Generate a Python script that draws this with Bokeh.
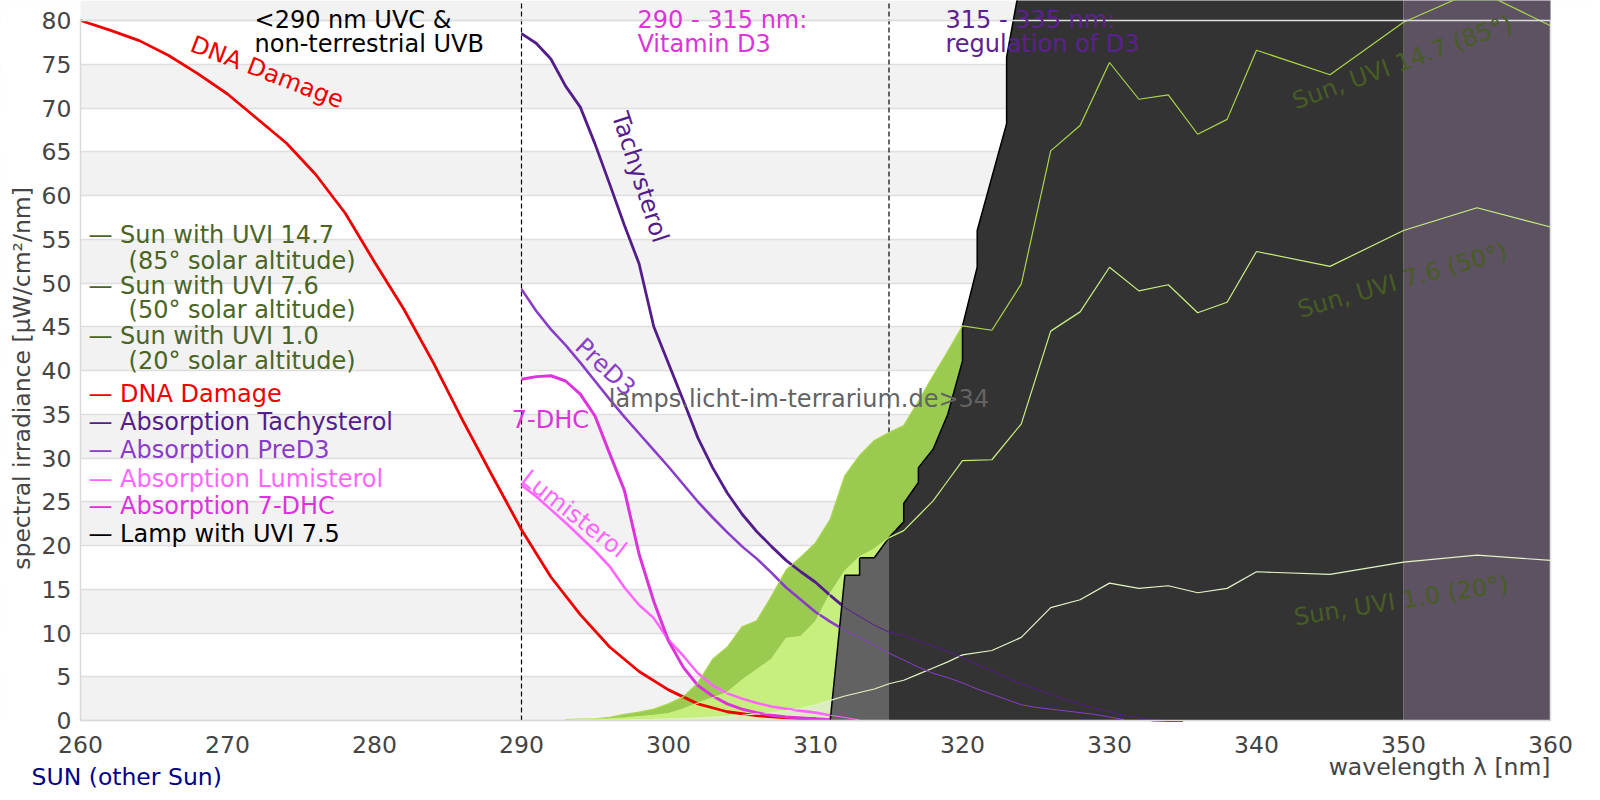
import numpy as np
from bokeh.plotting import figure
from bokeh.models import Range1d, FixedTicker, Label, BoxAnnotation
from bokeh.embed import file_html
from bokeh.resources import INLINE

# ---------------- data ----------------
x_ticks = [260, 270, 280, 290, 300, 310, 320, 330, 340, 350, 360]
y_ticks = list(range(0, 81, 5))
region_bounds = [290, 315]

dna_x = [260, 262, 264, 266, 268, 270, 272, 274, 276, 278, 280, 282, 284, 286, 288,
         290, 292, 294, 296, 298, 300, 302, 304, 306, 308, 310]
dna_y = [80.0, 78.9, 77.7, 76.0, 73.9, 71.6, 68.8, 66.0, 62.4, 58.0, 52.4, 47.0, 40.9, 34.3, 28.0,
         21.8, 16.4, 12.1, 8.4, 5.6, 3.5, 1.9, 1.0, 0.55, 0.3, 0.2]

tachy_x = list(range(290, 336))
tachy_y = [78.5, 77.4, 75.6, 72.5, 70.1, 65.9, 61.3, 56.6, 52.2, 45.0, 40.8, 36.6, 32.3, 28.9,
           26.0, 23.6, 21.6, 19.9, 18.3, 17.0, 15.8, 14.3, 12.9, 11.9, 10.9, 10.1, 9.7, 9.1,
           8.5, 7.9, 7.2, 6.4, 5.7, 4.9, 4.2, 3.6, 3.0, 2.4, 1.9, 1.4, 1.0, 0.6, 0.3, 0.05, 0.0, 0.0]

pred3_x = list(range(290, 332))
pred3_y = [49.3, 46.8, 44.7, 42.9, 40.9, 38.8, 36.7, 34.7, 32.8, 30.9, 29.0, 27.0, 25.0, 23.2,
           21.5, 19.9, 18.5, 16.9, 15.2, 13.8, 12.4, 11.3, 10.3, 9.5, 8.6, 7.7, 6.9, 6.1,
           5.4, 4.9, 4.3, 3.6, 3.0, 2.4, 1.8, 1.5, 1.3, 1.1, 0.9, 0.7, 0.4, 0.1]

dhc_x = list(range(290, 312))
dhc_y = [39.0, 39.3, 39.4, 38.8, 37.3, 34.8, 30.5, 26.3, 19.0, 13.6, 9.1, 6.1, 4.0, 2.8,
         1.9, 1.3, 0.9, 0.6, 0.4, 0.3, 0.2, 0.1]

lumi_x = list(range(290, 314))
lumi_y = [26.9, 25.6, 24.1, 22.6, 21.0, 19.4, 17.6, 15.2, 13.2, 11.7, 9.2, 7.4, 5.4, 4.0,
          3.1, 2.5, 2.0, 1.6, 1.35, 1.1, 0.9, 0.6, 0.35, 0.05]

sun_x = list(range(293, 321)) + list(range(322, 341, 2)) + [345, 350, 355, 360]
sun_147 = [0.1, 0.15, 0.2, 0.35, 0.7, 0.95, 1.3, 1.9, 2.7, 4.3, 7.0, 8.4, 10.7, 11.4,
           14.2, 17.2, 18.7, 20.3, 23.0, 28.0, 30.3, 32.0, 32.9, 33.7, 36.5, 39.4, 42.2, 45.1,
           44.6, 49.9, 65.1, 68.0, 75.2, 71.0, 71.5, 67.0, 68.7, 76.6,
           73.8, 79.8, 83.5, 79.4]
sun_76 = [0.05, 0.1, 0.15, 0.2, 0.3, 0.45, 0.6, 0.8, 1.3, 2.0, 2.6, 3.2, 4.6, 5.8,
          7.0, 9.4, 9.6, 11.3, 14.5, 17.1, 18.7, 19.6, 20.9, 21.7, 23.4, 25.1, 27.4, 29.7,
          29.8, 33.9, 44.5, 46.7, 51.8, 49.1, 49.8, 46.6, 47.8, 53.6,
          51.9, 56.0, 58.6, 56.4]
sun_10 = [0.0, 0.02, 0.03, 0.05, 0.07, 0.1, 0.13, 0.18, 0.23, 0.3, 0.38, 0.48, 0.6, 0.75,
          0.9, 1.1, 1.4, 1.8, 2.3, 2.8, 3.2, 3.6, 4.2, 4.6, 5.3, 6.0, 6.7, 7.5,
          8.0, 9.5, 12.9, 13.8, 15.7, 15.1, 15.4, 14.6, 15.1, 17.0,
          16.7, 18.1, 18.9, 18.3]

lamp_x = [311.0, 312.0, 313.0, 313.0, 314.0, 315.0, 316.0, 316.0, 317.0, 317.0, 318.0, 319.0,
          320.0, 320.0, 321.0, 321.0, 323.0, 323.0, 324.0, 325.0, 326.0, 328.0, 330.0, 335.0,
          340.0, 345.0, 350.0, 355.0, 360.0]
lamp_y = [0.0, 16.6, 16.6, 18.6, 18.6, 20.9, 22.7, 24.8, 27.2, 28.9, 31.0, 35.0,
          41.1, 45.1, 51.8, 56.0, 68.2, 75.8, 85.0, 100.0, 115.0, 130.0, 140.0, 150.0,
          155.0, 160.0, 160.0, 160.0, 155.0]

legend_lines = ["— Sun with UVI 14.7", "— Sun with UVI 7.6", "— Sun with UVI 1.0",
                "— DNA Damage", "— Absorption Tachysterol", "— Absorption PreD3",
                "— Absorption Lumisterol", "— Absorption 7-DHC", "— Lamp with UVI 7.5"]
legend_sub = ["(85° solar altitude)", "(50° solar altitude)", "(20° solar altitude)"]

# ---------------- styles ----------------
FONT = "DejaVu Sans"
FS = "24px"
FS_TICK = "23.5px"
C_RED = "#f00000"
C_TACHY = "#541d8c"
C_PRED3 = "#8a3dc9"
C_LUMI = "#ff66ff"
C_DHC = "#dd33dd"
C_OLIVE = "#4a6526"
C_SUNLBL = "#475d24"
C_G1 = "#9acb50"
C_G2 = "#c6ef7e"
C_G3 = "#dcedc1"
C_TXT = "#444444"

X0, X1 = x_ticks[0], x_ticks[-1]
Y1 = y_ticks[-1]

# the frame covers the whole canvas; the axes sit at fixed data positions
p = figure(width=1592, height=796,
           x_range=Range1d(X0 - 80 / 14.7, X1 + 42 / 14.7),
           y_range=Range1d(-76 / 8.75, Y1 + 20 / 8.75),
           output_backend="svg", toolbar_location=None,
           min_border_left=0, min_border_right=0, min_border_top=0, min_border_bottom=0)
p.outline_line_color = None
p.background_fill_color = "white"
p.border_fill_color = "white"

p.xaxis.ticker = FixedTicker(ticks=x_ticks)
p.yaxis.ticker = FixedTicker(ticks=y_ticks)
p.xaxis.fixed_location = 0
p.yaxis.fixed_location = X0
p.xaxis.bounds = (X0, X1)
p.yaxis.bounds = (0, Y1)
for ax in (p.xaxis[0], p.yaxis[0]):
    ax.axis_line_color = "#d9d9d9"
    ax.axis_line_width = 1.5
    ax.major_tick_line_color = None
    ax.minor_tick_line_color = None
    ax.major_label_text_font = FONT
    ax.major_label_text_font_size = FS_TICK
    ax.major_label_text_color = C_TXT
p.xaxis.major_label_standoff = 9
p.yaxis.major_label_standoff = 3

p.xgrid.grid_line_color = None
p.ygrid.grid_line_color = "#dedede"
p.ygrid.grid_line_width = 1.5
p.ygrid.band_fill_color = "#f2f2f2"
p.ygrid.band_fill_alpha = 1.0
# keep the grid bands inside the 260-360 nm plotting area
p.add_layout(BoxAnnotation(right=X0, fill_color="white", fill_alpha=1, line_color=None, level="underlay"))
p.add_layout(BoxAnnotation(left=X1, fill_color="white", fill_alpha=1, line_color=None, level="underlay"))

# dashed region separators
p.segment(x0=region_bounds, y0=0, x1=region_bounds, y1=p.y_range.end,
          line_color="black", line_dash="5 3", line_width=1.2)

# sun fills
p.varea(x=sun_x, y1=0, y2=sun_147, fill_color=C_G1)
p.varea(x=sun_x, y1=0, y2=sun_76, fill_color=C_G2)
p.varea(x=sun_x, y1=0, y2=sun_10, fill_color=C_G3)

# thick curves
p.line(dna_x, dna_y, line_color=C_RED, line_width=2.8)
p.line(lumi_x, lumi_y, line_color=C_LUMI, line_width=2.6)
p.line(dhc_x, dhc_y, line_color=C_DHC, line_width=3.0)
p.line(pred3_x, pred3_y, line_color=C_PRED3, line_width=2.6)
p.line(tachy_x, tachy_y, line_color=C_TACHY, line_width=2.8)

# lamp fill, coloured per spectral zone
lx = np.array(lamp_x)
ly = np.array(lamp_y)
zones = [(lx <= 315, "#626262"), ((lx >= 315) & (lx <= 350), "#333333"), (lx >= 350, "#5d5261")]
for mask, col in zones:
    p.varea(x=lx[mask], y1=0, y2=ly[mask], fill_color=col)
p.line(lamp_x, lamp_y, line_color="black", line_width=1.5)

# thin curves on top of the lamp
p.line(sun_x, sun_147, line_color="#aad64a", line_width=1.2)
p.line(sun_x, sun_76, line_color="#c9f080", line_width=1.2)
p.line(sun_x, sun_10, line_color="#e2f3c4", line_width=1.2)
p.line(lumi_x, lumi_y, line_color=C_LUMI, line_width=1)
p.line(dhc_x, dhc_y, line_color=C_DHC, line_width=1)
p.line(pred3_x, pred3_y, line_color=C_PRED3, line_width=1)
p.line(tachy_x, tachy_y, line_color=C_TACHY, line_width=1)

# frame top / right edges
p.segment(x0=[X0], y0=[Y1], x1=[X1], y1=[Y1], line_color="#dddddd", line_width=1.5)
p.segment(x0=[X1], y0=[0], x1=[X1], y1=[Y1], line_color="#dddddd", line_width=1.5)


def lab(x, y, text, color, angle=0.0, align="left", size=FS):
    p.add_layout(Label(x=x, y=y, text=text, text_color=color, angle=angle, angle_units="deg",
                       text_align=align, text_baseline="middle", text_font=FONT,
                       text_font_size=size))


# region texts
lab(271.84, 80.08, "<290 nm UVC &", "black")
lab(271.84, 77.33, "non-terrestrial UVB", "black")
lab(297.89, 80.08, "290 - 315 nm:", C_DHC)
lab(297.89, 77.33, "Vitamin D3", C_DHC)
lab(318.84, 80.08, "315 - 335 nm:", "#5c2090")
lab(318.84, 77.33, "regulation of D3", "#5c2090")

# curve labels
lab(272.70, 74.09, "DNA Damage", C_RED, -21, "center")
lab(298.07, 62.09, "Tachysterol", C_TACHY, -72, "center")
lab(295.71, 40.38, "PreD3", C_PRED3, -43, "center")
lab(291.97, 34.40, "7-DHC", C_DHC, 0, "center")
lab(293.56, 23.62, "Lumisterol", C_LUMI, -38, "center")
lab(295.94, 36.77, "lamps.licht-im-terrarium.de>34", "#636363")
lab(349.92, 75.23, "Sun, UVI 14.7 (85°)", C_SUNLBL, 20, "center")
lab(349.92, 50.29, "Sun, UVI 7.6 (50°)", C_SUNLBL, 16, "center")
lab(349.84, 13.71, "Sun, UVI 1.0 (20°)", C_SUNLBL, 9, "center")

# legend (text based)
legend_colors = [C_OLIVE, C_OLIVE, C_OLIVE, C_RED, C_TACHY, C_PRED3, C_LUMI, C_DHC, "black"]
legend_y = [55.43, 49.71, 44.00, 37.34, 34.09, 30.86, 27.62, 24.46, 21.26]
for txt, col, yy in zip(legend_lines, legend_colors, legend_y):
    lab(260.54, yy, txt, col)
for txt, yy in zip(legend_sub, [52.57, 46.86, 41.14]):
    lab(263.27, yy, txt, C_OLIVE)

# axis titles and footer
lab(256.05, 39.09, "spectral irradiance [μW/cm²/nm]", C_TXT, 90, "center", FS_TICK)
lab(360.0, -5.37, "wavelength λ [nm]", C_TXT, 0, "right", FS_TICK)
lab(256.67, -6.40, "SUN (other Sun)", "#00008b", 0, "left", FS_TICK)

open("out.html", "w").write(file_html(p, INLINE))
